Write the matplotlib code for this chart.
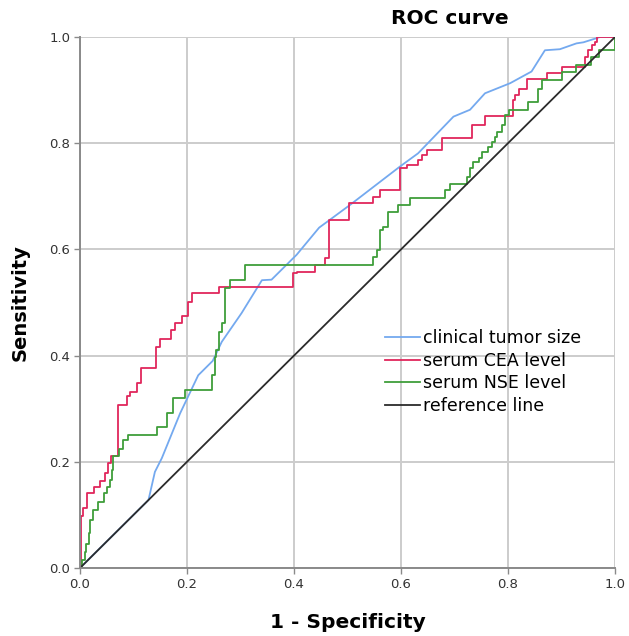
import matplotlib
matplotlib.use("Agg")
import matplotlib.pyplot as plt

# ---- data ----
tumor_fpr = [0.0, 0.128, 0.14, 0.153, 0.187, 0.221, 0.248, 0.265, 0.302, 0.34, 0.358, 0.386,
             0.405, 0.447, 0.466, 0.505, 0.598, 0.632, 0.698, 0.729, 0.757, 0.804, 0.844,
             0.869, 0.897, 0.928, 0.941, 0.963, 0.972, 1.0]
tumor_tpr = [0.0, 0.128, 0.181, 0.207, 0.291, 0.363, 0.39, 0.426, 0.48, 0.542, 0.543, 0.571,
             0.59, 0.641, 0.655, 0.684, 0.756, 0.781, 0.85, 0.863, 0.894, 0.913, 0.935,
             0.975, 0.977, 0.988, 0.99, 0.997, 1.0, 1.0]

cea_fpr = [0.0, 0.002, 0.006, 0.014, 0.027, 0.037, 0.047, 0.053, 0.058, 0.071, 0.087, 0.093,
           0.106, 0.114, 0.142, 0.15, 0.171, 0.178, 0.19, 0.202, 0.21, 0.26, 0.399, 0.405,
           0.439, 0.458, 0.466, 0.502, 0.547, 0.561, 0.599, 0.611, 0.632, 0.64, 0.648,
           0.676, 0.732, 0.757, 0.81, 0.813, 0.82, 0.835, 0.872, 0.9, 0.944, 0.95, 0.957,
           0.962, 0.966, 1.0]
cea_tpr = [0.0, 0.097, 0.113, 0.141, 0.153, 0.163, 0.179, 0.198, 0.21, 0.307, 0.323, 0.332,
           0.348, 0.377, 0.417, 0.431, 0.448, 0.461, 0.474, 0.501, 0.517, 0.53, 0.555, 0.558,
           0.571, 0.583, 0.655, 0.687, 0.699, 0.712, 0.753, 0.759, 0.768, 0.778, 0.787,
           0.809, 0.834, 0.851, 0.881, 0.891, 0.903, 0.92, 0.933, 0.944, 0.962, 0.975, 0.985,
           0.99, 1.0, 1.0]

nse_fpr = [0.0, 0.004, 0.009, 0.012, 0.016, 0.019, 0.025, 0.034, 0.044, 0.05, 0.056, 0.059,
           0.062, 0.072, 0.081, 0.09, 0.143, 0.162, 0.174, 0.196, 0.246, 0.252, 0.255, 0.259,
           0.265, 0.271, 0.28, 0.308, 0.548, 0.555, 0.561, 0.567, 0.576, 0.595, 0.617, 0.682,
           0.692, 0.723, 0.729, 0.735, 0.745, 0.751, 0.763, 0.77, 0.776, 0.779, 0.788, 0.794,
           0.801, 0.838, 0.857, 0.863, 0.9, 0.928, 0.955, 0.97, 1.0]
nse_tpr = [0.0, 0.015, 0.03, 0.045, 0.065, 0.09, 0.109, 0.125, 0.141, 0.153, 0.166, 0.185,
           0.21, 0.225, 0.241, 0.25, 0.266, 0.291, 0.32, 0.335, 0.363, 0.398, 0.41, 0.445,
           0.461, 0.527, 0.542, 0.571, 0.586, 0.599, 0.637, 0.643, 0.671, 0.684, 0.696, 0.712,
           0.724, 0.737, 0.753, 0.765, 0.772, 0.784, 0.793, 0.803, 0.812, 0.822, 0.834, 0.853,
           0.863, 0.878, 0.903, 0.919, 0.935, 0.947, 0.962, 0.976, 1.0]

ref_x = [0.0, 1.0]
ref_y = [0.0, 1.0]

labels = ["clinical tumor size", "serum CEA level", "serum NSE level", "reference line"]
colors = ["#74a9ef", "#e0265c", "#3f9e3a", "#2b2b2b"]
ticks = [0.0, 0.2, 0.4, 0.6, 0.8, 1.0]
tick_labels = ["0.0", "0.2", "0.4", "0.6", "0.8", "1.0"]

plt.rcParams['font.family'] = ['DejaVu Sans']

fig = plt.figure(figsize=(6.29, 6.36), dpi=100)
ax = fig.add_axes([80/629, 68/636, 535/629, 531/636])

ax.plot(tumor_fpr, tumor_tpr, color=colors[0], lw=1.3, label=labels[0])
ax.plot(cea_fpr, cea_tpr, color=colors[1], lw=1.3, drawstyle='steps-post', label=labels[1])
ax.plot(nse_fpr, nse_tpr, color=colors[2], lw=1.3, drawstyle='steps-post', label=labels[2])
ax.plot(ref_x, ref_y, color=colors[3], lw=1.3, label=labels[3])

ax.set_xlim(0, 1)
ax.set_ylim(0, 1)
ax.set_xticks(ticks)
ax.set_yticks(ticks)
ax.set_xticklabels(tick_labels, fontsize=9.5, color="#333333")
ax.set_yticklabels(tick_labels, fontsize=9.5, color="#333333")
ax.grid(True, color="#cccccc", lw=1.4)
ax.set_axisbelow(True)
for s in ["top", "right"]:
    ax.spines[s].set_visible(False)
for s in ["left", "bottom"]:
    ax.spines[s].set_color("#8a8a8a")
    ax.spines[s].set_linewidth(1.4)
ax.tick_params(axis='both', direction='out', length=4, color="#8a8a8a", width=1.0, pad=3)

ax.set_xlabel("1 - Specificity", fontsize=14.5, fontweight='bold', labelpad=16)
ax.set_ylabel("Sensitivity", fontsize=14, fontweight='bold', labelpad=14)
fig.text(450/629, 1 - 19/636, "ROC curve", fontsize=14.5, fontweight='bold', ha='center', va='center')

ax.legend(loc='upper left', bbox_to_anchor=(0.557, 0.463), frameon=False, fontsize=12.5,
          handlelength=2.0, handletextpad=0.2, labelspacing=0.26, borderaxespad=0)

fig.savefig("out.png", dpi=100)
